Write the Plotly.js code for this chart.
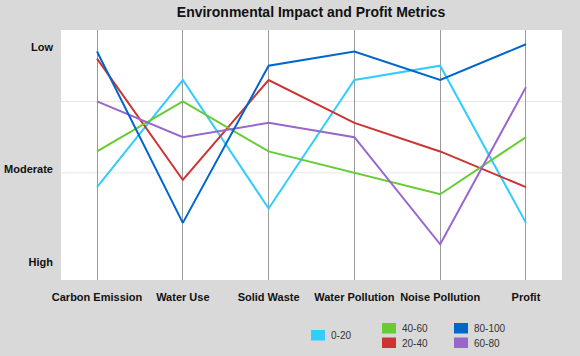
<!DOCTYPE html>
<html>
<head>
<meta charset="utf-8">
<script src="https://cdn.plot.ly/plotly-3.0.1.min.js"></script>
<style>html,body{margin:0;padding:0;background:#d9d9d9;}#chart{width:580px;height:356px;}</style>
</head>
<body>
<div id="chart"></div>
<script>
// Categories (parallel axes)
const categories = ['Carbon Emission', 'Water Use', 'Solid Waste', 'Water Pollution', 'Noise Pollution', 'Profit'];

// Series values (0 = top "Low", larger = lower on chart)
const seriesNames = ['0-20', '20-40', '40-60', '60-80', '80-100'];
const s0_20   = [22, 7, 25, 7, 5, 27];
const s20_40  = [4, 21, 7, 13, 17, 22];
const s40_60  = [17, 10, 17, 20, 23, 15];
const s60_80  = [10, 15, 13, 15, 30, 8];
const s80_100 = [3, 27, 5, 3, 7, 2];

// Y tick labels
const yTickVals = [2.4, 19.5, 32.5];
const yTickText = ['Low', 'Moderate', 'High'];
const yGridVals = [10, 20];

const seriesValues = [s0_20, s20_40, s40_60, s60_80, s80_100];
const colors = ['#33ccff', '#cc3333', '#66cc33', '#9966cc', '#0066cc'];

const traces = seriesValues.map((vals, i) => ({
  type: 'scatter',
  mode: 'lines',
  x: categories,
  y: vals,
  name: seriesNames[i],
  line: {color: colors[i], width: 2},
  showlegend: false,
  hoverinfo: 'x+y+name'
}));

// Gridlines (horizontal)
const shapes = yGridVals.map(v => ({
  type: 'line', xref: 'paper', x0: 0, x1: 1, yref: 'y', y0: v, y1: v,
  line: {color: '#e6e6e6', width: 1}, layer: 'below'
}));

// Custom legend (3 columns, matching reference layout)
const W = 580, H = 356, ML = 61, MR = 18, MT = 30, MB = 76;
const PW = W - ML - MR, PH = H - MT - MB;
const px = x => (x - ML) / PW;
const py = y => (H - MB - y) / PH;
// legend slots: [swatch left, swatch top] in pixels, per series index
const legendSlots = {
  0: [311, 330],
  2: [382, 323],
  1: [382, 337.5],
  4: [454, 323],
  3: [454, 337.5]
};
const annotations = [];
Object.keys(legendSlots).forEach(k => {
  const i = +k;
  const [lx, ly] = legendSlots[k];
  shapes.push({
    type: 'rect', xref: 'paper', yref: 'paper',
    x0: px(lx), x1: px(lx + 14), y0: py(ly + 10.5), y1: py(ly),
    fillcolor: colors[i], line: {width: 0}
  });
  annotations.push({
    xref: 'paper', yref: 'paper', x: px(lx + 18), y: py(ly + 5.5),
    xanchor: 'left', yanchor: 'middle', showarrow: false,
    text: seriesNames[i],
    font: {family: 'Liberation Sans, Arial, sans-serif', size: 10, color: '#333333'}
  });
});

const layout = {
  width: W, height: H,
  paper_bgcolor: '#d9d9d9',
  plot_bgcolor: '#ffffff',
  margin: {l: ML, r: MR, t: MT, b: MB, pad: 0},
  title: {
    text: '<b>Environmental Impact and Profit Metrics</b>',
    x: px(311), xref: 'paper', xanchor: 'center',
    y: 1 - 12 / H, yref: 'container', yanchor: 'middle',
    font: {family: 'Liberation Sans, Arial, sans-serif', size: 14, color: '#111111'}
  },
  xaxis: {
    type: 'category',
    range: [-0.42, 5.42],
    showgrid: true, gridcolor: '#9a9a9a', gridwidth: 1,
    zeroline: false, showline: false, ticks: '',
    tickvals: categories,
    ticktext: categories.map(c => '<b>' + c + '</b>'),
    ticklabelstandoff: 9,
    tickfont: {family: 'Liberation Sans, Arial, sans-serif', size: 11, color: '#111111'},
    fixedrange: true
  },
  yaxis: {
    range: [35, 0],
    showgrid: false, zeroline: false, showline: false, ticks: '',
    tickvals: yTickVals,
    ticktext: yTickText.map(t => '<b>' + t + '</b>'),
    ticklabelstandoff: 7,
    tickfont: {family: 'Liberation Sans, Arial, sans-serif', size: 11, color: '#111111'},
    fixedrange: true
  },
  shapes: shapes,
  annotations: annotations,
  showlegend: false
};

Plotly.newPlot('chart', traces, layout, {displayModeBar: false, staticPlot: true});
</script>
</body>
</html>
